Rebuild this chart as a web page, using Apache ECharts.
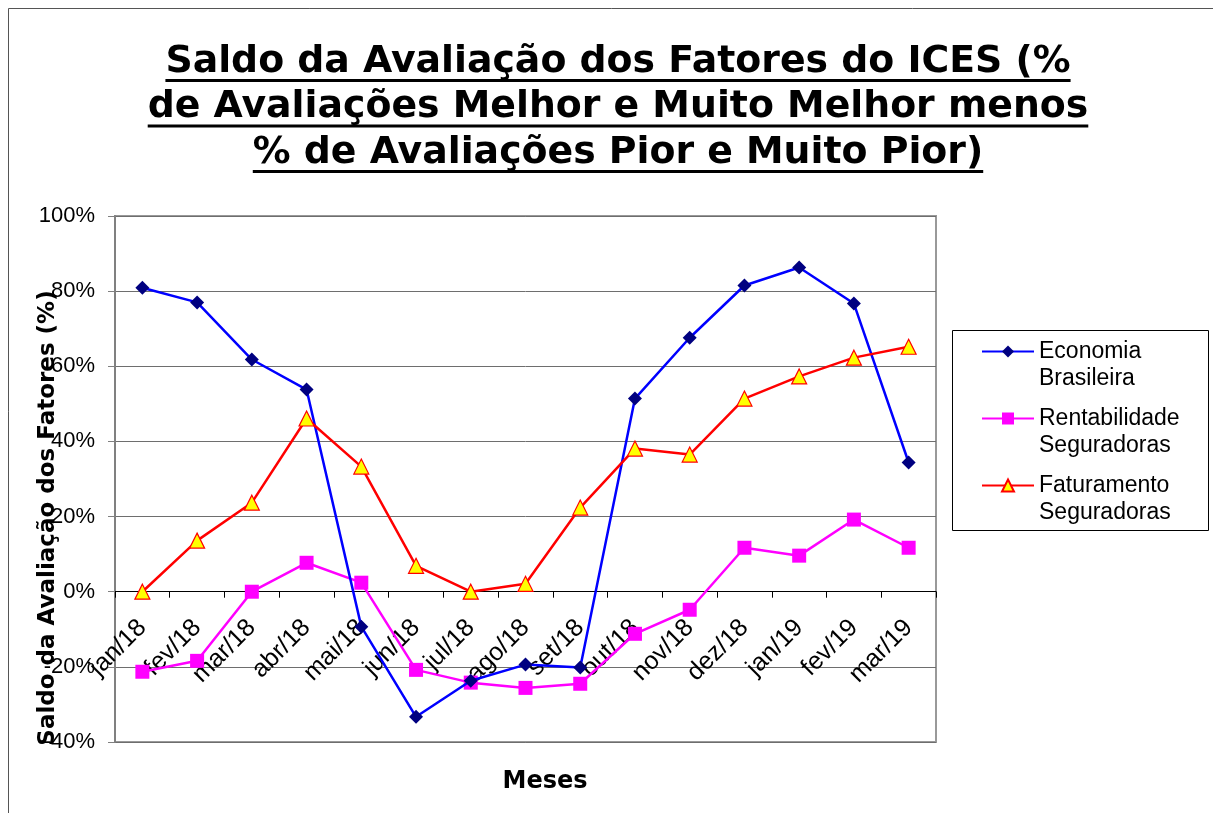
<!DOCTYPE html>
<html><head><meta charset="utf-8">
<script src="https://cdn.jsdelivr.net/npm/echarts@6/dist/echarts.min.js"></script>
<style>html,body{margin:0;padding:0;background:#fff}#c{width:1213px;height:813px}</style>
</head><body><div id="c"></div>
<script>
const categories = ['jan/18','fev/18','mar/18','abr/18','mai/18','jun/18','jul/18','ago/18','set/18','out/18','nov/18','dez/18','jan/19','fev/19','mar/19'];
const economia = [80.9, 77.0, 61.8, 53.8, -9.3, -33.3, -23.7, -19.4, -20.2, 51.4, 67.6, 81.5, 86.3, 76.7, 34.4];
const rentabilidade = [-21.3, -18.4, 0.0, 7.7, 2.4, -20.8, -24.2, -25.6, -24.5, -11.2, -4.8, 11.7, 9.6, 19.2, 11.7];
const faturamento = [0.0, 13.6, 23.7, 46.1, 33.3, 6.9, 0.0, 2.1, 22.4, 38.1, 36.5, 51.4, 57.3, 62.3, 65.2];
const titleLines = ['Saldo da Avaliação dos Fatores do ICES (%', 'de Avaliações Melhor e Muito Melhor menos', '% de Avaliações Pior e Muito Pior)'];
const seriesNames = ['Economia Brasileira', 'Rentabilidade Seguradoras', 'Faturamento Seguradoras'];
const yTicks = {min: -40, max: 100, interval: 20};

const gridTop = 216, gridBottom = 71, chartH = 813;
const plotH = chartH - gridTop - gridBottom;
const zeroOffset = plotH * (0 - yTicks.min) / (yTicks.max - yTicks.min);

const titleFont = 'bold 37.8px "DejaVu Sans"';
const cv = document.createElement('canvas').getContext('2d');
cv.font = titleFont;
const graphics = [];
graphics.push({type:'rect', shape:{x:8.5, y:8.5, width:1230, height:830}, style:{fill:'none', stroke:'#555', lineWidth:1}, silent:true});
titleLines.forEach((t, i) => {
  const cy = 62 + i * 45.5;
  graphics.push({type:'text', x:618, y:cy, style:{text:t, font:titleFont, fill:'#000', textAlign:'center', textVerticalAlign:'middle'}});
  const w = cv.measureText(t).width;
  graphics.push({type:'rect', shape:{x:618 - w/2, y:cy + 17, width:w, height:3}, style:{fill:'#000'}});
});
graphics.push({type:'text', x:48, y:518, rotation:Math.PI/2, style:{text:'Saldo da Avaliação dos Fatores (%)', font:'bold 23px "DejaVu Sans"', fill:'#000', textAlign:'center', textVerticalAlign:'middle'}});
graphics.push({type:'text', x:545, y:782, style:{text:'Meses', font:'bold 24px "DejaVu Sans"', fill:'#000', textAlign:'center', textVerticalAlign:'middle'}});
graphics.push({type:'rect', shape:{x:952.5, y:330.5, width:256, height:200}, style:{fill:'none', stroke:'#000', lineWidth:1}, silent:true});

const chart = echarts.init(document.getElementById('c'), null, {renderer:'canvas'});
chart.setOption({
  animation: false,
  backgroundColor: '#fff',
  graphic: graphics,
  grid: {left:115, right:277, top:gridTop, bottom:gridBottom, show:true, borderColor:'#999', borderWidth:2, backgroundColor:'transparent'},
  legend: {
    left: 981, top: 311, orient:'vertical', padding:0, itemGap:-14,
    itemWidth:52, itemHeight:15,
    formatter: n => '\n' + n.replace(' ', '\n'),
    textStyle: {fontFamily:'"Liberation Sans", Arial', fontSize:23, color:'#000', lineHeight:27},
    data: seriesNames
  },
  xAxis: {
    type:'category', data:categories, boundaryGap:true, position:'bottom', offset:-zeroOffset,
    axisLine:{onZero:false, lineStyle:{color:'#000', width:1}},
    axisTick:{show:true, length:6, lineStyle:{color:'#000'}},
    axisLabel:{rotate:45, fontFamily:'"Liberation Sans", Arial', fontSize:25, color:'#000', margin:32, interval:0},
    splitLine:{show:false}
  },
  yAxis: {
    type:'value', min:yTicks.min, max:yTicks.max, interval:yTicks.interval,
    axisLine:{show:true, lineStyle:{color:'#808080', width:2}},
    axisTick:{show:true, length:7, lineStyle:{color:'#808080'}},
    axisLabel:{formatter:'{value}%', fontFamily:'"Liberation Sans", Arial', fontSize:22, color:'#000', margin:20},
    splitLine:{show:true, lineStyle:{color:'#6e6e6e', width:1}}
  },
  series: [
    {name:seriesNames[0], type:'line', data:economia, symbol:'diamond', symbolSize:14,
     lineStyle:{color:'#0000ff', width:2.5}, itemStyle:{color:'#000080', borderWidth:0}, z:3},
    {name:seriesNames[1], type:'line', data:rentabilidade, symbol:'rect', symbolSize:14,
     lineStyle:{color:'#ff00ff', width:2.5}, itemStyle:{color:'#ff00ff', borderWidth:0}, z:2},
    {name:seriesNames[2], type:'line', data:faturamento, symbol:'triangle', symbolSize:15,
     lineStyle:{color:'#ff0000', width:2.5}, itemStyle:{color:'#ffff00', borderColor:'#ff0000', borderWidth:1.2}, z:4}
  ]
});
</script></body></html>
